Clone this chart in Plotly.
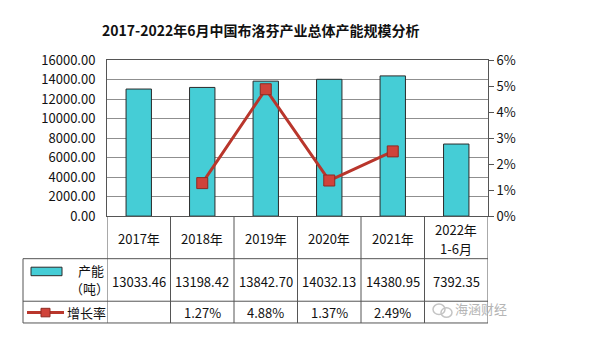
import plotly.graph_objects as go

categories = ["2017年", "2018年", "2019年", "2020年", "2021年", "2022年<br>1-6月"]
capacity = [13033.46, 13198.42, 13842.70, 14032.13, 14380.95, 7392.35]
capacity_labels = ["13033.46", "13198.42", "13842.70", "14032.13", "14380.95", "7392.35"]
growth = [None, 0.0127, 0.0488, 0.0137, 0.0249, None]
growth_labels = ["", "1.27%", "4.88%", "1.37%", "2.49%", ""]
title = "2017-2022年6月中国布洛芬产业总体产能规模分析"

W, H = 605, 349
def px(x): return x / W
def py(y): return 1 - y / H

FONT = "Noto Sans CJK SC"
BAR = "#45CDD6"
LINE = "#B9362C"
MARK = "#D0433A"
GRID = "#8f8f8f"
EDGE = "#555555"

idx = list(range(len(categories)))

fig = go.Figure()
fig.add_trace(go.Bar(x=idx, y=capacity, width=0.4, marker=dict(color=BAR, line=dict(color="#2b2b2b", width=1)),
                     showlegend=False, hoverinfo="skip"))
fig.add_trace(go.Scatter(x=idx, y=growth, yaxis="y2", mode="lines+markers", connectgaps=False,
                         line=dict(color=LINE, width=3),
                         marker=dict(symbol="square", size=11, color=MARK, line=dict(color="#8e2a22", width=1)),
                         showlegend=False, hoverinfo="skip"))

x0d, x1d = px(107), px(488)
yb, yt = py(218), py(53)

fig.update_layout(
    width=W, height=H, margin=dict(l=0, r=0, t=0, b=0),
    paper_bgcolor="white", plot_bgcolor="white",
    font=dict(family=FONT, size=13, color="#111111"),
    xaxis=dict(domain=[x0d, x1d], range=[-0.5, 5.5], showticklabels=False, showgrid=False,
               zeroline=False, showline=True, mirror=True, linecolor=EDGE, linewidth=1, ticks=""),
    yaxis=dict(domain=[yb, yt], range=[0, 16000], dtick=2000, tickformat=".2f", showgrid=True,
               gridcolor=GRID, gridwidth=1, zeroline=False, showline=True, linecolor=EDGE,
               ticks="", ticklabelstandoff=8, tickfont=dict(size=13, color="#111111")),
    yaxis2=dict(overlaying="y", side="right", range=[0, 0.06], dtick=0.01, tickformat=".0%",
                showgrid=False, zeroline=False, showline=True, linecolor=EDGE, ticks="outside",
                ticklen=5, tickcolor=EDGE, tickfont=dict(size=13, color="#111111")),
    bargap=0.6,
)

shapes = []
for yy in [263, 308, 331]:
    shapes.append(dict(type="line", xref="paper", yref="paper", x0=px(23), x1=px(488), y0=py(yy), y1=py(yy),
                       line=dict(color=EDGE, width=1)))
shapes.append(dict(type="line", xref="paper", yref="paper", x0=px(23), x1=px(23), y0=py(263), y1=py(331),
                   line=dict(color=EDGE, width=1)))
for k in range(len(categories) + 1):
    shapes.append(dict(type="line", xref="x", yref="paper", x0=k - 0.5, x1=k - 0.5, y0=py(218), y1=py(331),
                       line=dict(color=EDGE, width=1)))
shapes.append(dict(type="rect", xref="paper", yref="paper", x0=px(31), x1=px(62), y0=py(281), y1=py(272),
                   fillcolor=BAR, line=dict(color="#2b2b2b", width=1)))
shapes.append(dict(type="line", xref="paper", yref="paper", x0=px(27), x1=px(64), y0=py(320), y1=py(320),
                   line=dict(color=LINE, width=3)))
shapes.append(dict(type="rect", xref="paper", yref="paper", x0=px(41), x1=px(50), y0=py(324.5), y1=py(315.5),
                   fillcolor=MARK, line=dict(color="#8e2a22", width=1)))
# watermark icon (light circles)
shapes.append(dict(type="circle", xref="paper", yref="paper", x0=px(433), x1=px(445), y0=py(322), y1=py(311),
                   line=dict(color="#c4c4c4", width=1.5)))
shapes.append(dict(type="circle", xref="paper", yref="paper", x0=px(441), x1=px(452), y0=py(325), y1=py(315),
                   line=dict(color="#c4c4c4", width=1.5)))

ann = []
ann.append(dict(text="<b>" + title + "</b>", xref="paper", yref="paper", x=px(261), y=py(21),
                showarrow=False, font=dict(size=14, color="#111111"), xanchor="center", yanchor="middle"))
for i, c in enumerate(categories):
    parts = c.split("<br>")
    if len(parts) == 1:
        ann.append(dict(text=parts[0], xref="x", yref="paper", x=i, y=py(242), showarrow=False,
                        font=dict(size=13), xanchor="center", yanchor="middle"))
    else:
        for j, p in enumerate(parts):
            ann.append(dict(text=p, xref="x", yref="paper", x=i, y=py(232 + 20 * j), showarrow=False,
                            font=dict(size=13), xanchor="center", yanchor="middle"))
    ann.append(dict(text=capacity_labels[i], xref="x", yref="paper", x=i, y=py(287), showarrow=False,
                    font=dict(size=13), xanchor="center", yanchor="middle"))
    ann.append(dict(text=growth_labels[i], xref="x", yref="paper", x=i, y=py(320), showarrow=False,
                    font=dict(size=13), xanchor="center", yanchor="middle"))
ann.append(dict(text="产能", xref="paper", yref="paper", x=px(91), y=py(276), showarrow=False,
                font=dict(size=13), xanchor="center", yanchor="middle"))
ann.append(dict(text="（吨）", xref="paper", yref="paper", x=px(89), y=py(295), showarrow=False,
                font=dict(size=13), xanchor="center", yanchor="middle"))
ann.append(dict(text="增长率", xref="paper", yref="paper", x=px(86), y=py(320), showarrow=False,
                font=dict(size=13), xanchor="center", yanchor="middle"))
ann.append(dict(text="海涵财经", xref="paper", yref="paper", x=px(481), y=py(316), showarrow=False,
                font=dict(size=13, color="#b5b5b5"), xanchor="center", yanchor="middle"))

fig.update_layout(shapes=shapes, annotations=ann)
fig.write_html("out.html")
